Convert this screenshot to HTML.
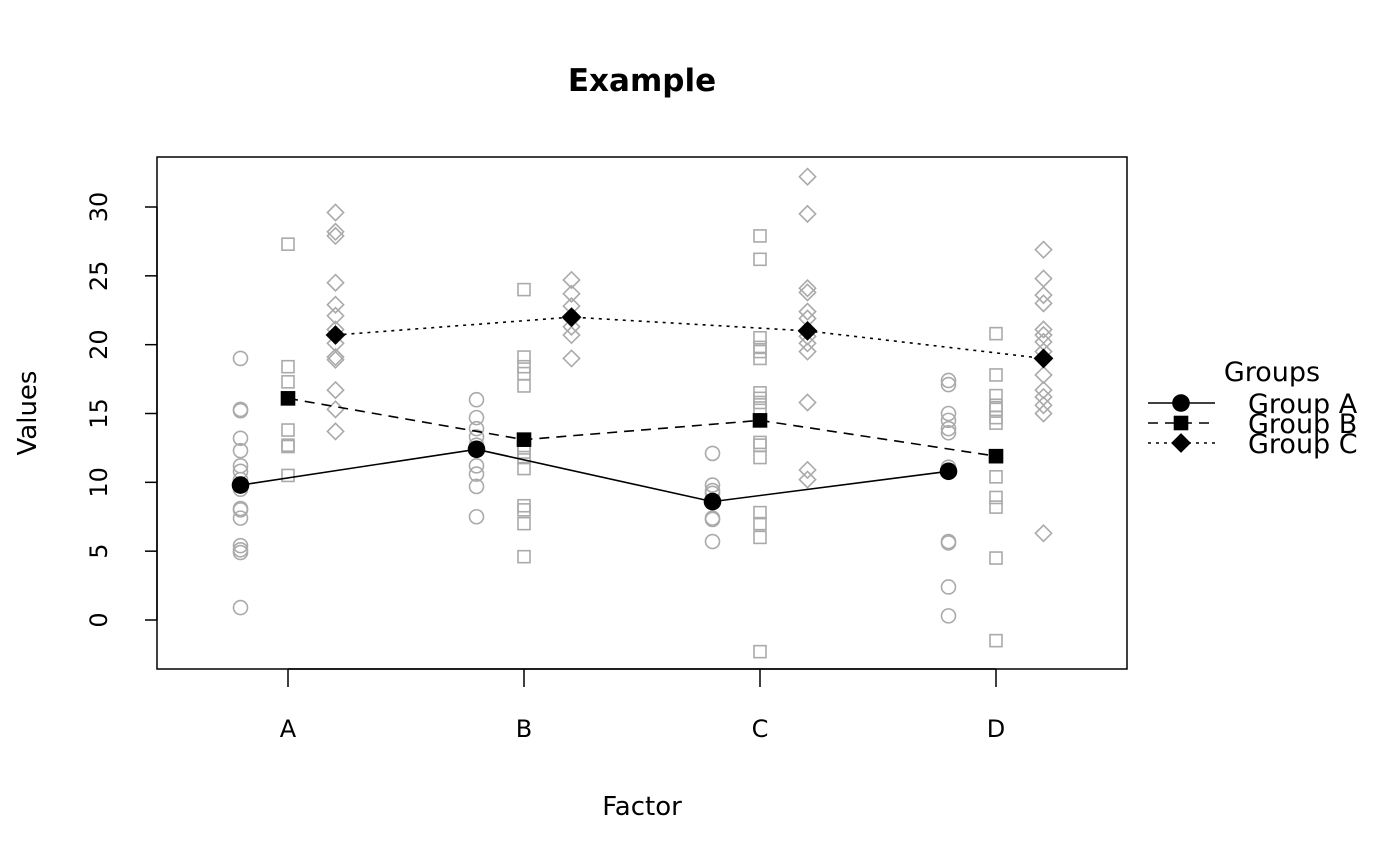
<!DOCTYPE html>
<html><head><meta charset="utf-8"><style>
html,body{margin:0;padding:0;background:#fff}
svg{display:block;font-family:"DejaVu Sans","Liberation Sans",sans-serif}
</style></head><body>
<svg id="chart" width="1400" height="866" viewBox="0 0 1400 866">
<text x="642" y="91" text-anchor="middle" font-size="31" font-weight="bold">Example</text>
<rect x="157" y="157" width="970" height="512" fill="none" stroke="#000" stroke-width="1.5"/>
<text x="642" y="815" text-anchor="middle" font-size="26">Factor</text>
<text transform="translate(36,413) rotate(-90)" text-anchor="middle" font-size="26">Values</text>
<g id="axes"></g><g id="raw"></g><g id="means"></g><g id="legend"></g>
</svg>
<script>
const categories=["A","B","C","D"];
const groupNames=["Group A","Group B","Group C"];
const yTicks=[0,5,10,15,20,25,30];
const rawA=[[19.0,15.3,15.2,13.2,12.3,11.2,10.8,10.2,9.5,8.1,8.0,7.4,5.4,5.1,4.9,0.9],[16.0,14.7,13.9,13.3,12.7,11.2,10.6,9.7,7.5],[12.1,9.8,9.4,9.2,7.4,7.3,5.7],[17.4,17.1,15.0,14.5,13.9,13.6,11.1,5.7,5.6,2.4,0.3]];
const rawB=[[27.3,18.4,17.3,13.8,12.7,12.6,10.5],[24.0,19.1,18.4,17.9,17.0,12.5,12.2,11.8,11.0,8.3,8.0,7.0,4.6],[27.9,26.2,20.5,19.8,19.5,19.0,16.5,16.1,15.8,15.4,12.9,12.7,11.8,7.8,7.0,6.0,-2.3],[20.8,17.8,16.3,15.6,15.3,14.7,14.3,10.4,8.9,8.2,4.5,-1.5]];
const rawC=[[29.6,28.2,27.9,24.5,22.9,22.1,21.1,20.1,19.1,18.9,16.7,15.3,13.7],[24.7,23.7,22.8,21.9,21.3,20.7,19.0],[32.2,29.5,24.1,23.8,22.4,21.9,20.6,20.1,19.5,15.8,10.9,10.2],[26.9,24.8,23.6,23.0,21.1,20.7,20.2,19.5,17.8,16.7,16.2,15.6,15.0,6.3]];
const meansA=[9.8,12.4,8.6,10.8];
const meansB=[16.1,13.1,14.5,11.9];
const meansC=[20.7,22.0,21.0,19.0];

const NS="http://www.w3.org/2000/svg";
const yScale=v=>620-v*(413/30);
const xScale=(i,g)=>288+i*236+(g-1)*47.5;
function mk(tag,attrs,parent){const e=document.createElementNS(NS,tag);for(const k in attrs)e.setAttribute(k,attrs[k]);parent.appendChild(e);return e;}
function marker(shape,x,y,r,fill,stroke,parent){
  let e;
  if(shape===0) e=mk('circle',{cx:x,cy:y,r:r,fill:fill,stroke:stroke,'stroke-width':1.6},parent);
  else if(shape===1) e=mk('rect',{x:x-r,y:y-r,width:2*r,height:2*r,fill:fill,stroke:stroke,'stroke-width':1.6},parent);
  else e=mk('polygon',{points:`${x},${y-r*1.35} ${x+r*1.35},${y} ${x},${y+r*1.35} ${x-r*1.35},${y}`,fill:fill,stroke:stroke,'stroke-width':1.6},parent);
  return e;
}
const axes=document.getElementById('axes');
mk('line',{x1:157,x2:157,y1:yScale(0),y2:yScale(30),stroke:'#000','stroke-width':1.5},axes);
yTicks.forEach(t=>{
  const y=yScale(t);
  const l=mk('line',{x1:145,x2:157,y1:y,y2:y,stroke:'#000','stroke-width':1.5},axes);
  
  
  const tx=mk('text',{transform:`translate(107,${y}) rotate(-90)`,'text-anchor':'middle','font-size':24},axes);
  tx.textContent=t;
  
  
});
mk('line',{x1:xScale(0,1),x2:xScale(3,1),y1:669,y2:669,stroke:'#000','stroke-width':1.5},axes);
categories.forEach((c,i)=>{
  const x=xScale(i,1);
  const l=mk('line',{x1:x,x2:x,y1:669,y2:687,stroke:'#000','stroke-width':1.5},axes);
  
  
  const tx=mk('text',{x:x,y:737,'text-anchor':'middle','font-size':24},axes);
  tx.textContent=c;
  
  
});
const raw=document.getElementById('raw');
[rawA,rawB,rawC].forEach((set,g)=>{
  set.forEach((vals,i)=>{
    vals.forEach(v=>{
      const m=marker(g,xScale(i,g),yScale(v),g===0?7:6,'none','#aaa',raw);
      
      
    });
  });
});
const means=document.getElementById('means');
const dashes=['none','10,7','3,5'];
[meansA,meansB,meansC].forEach((vals,g)=>{
  const pts=vals.map((v,i)=>`${xScale(i,g)},${yScale(v)}`).join(' ');
  const pl=mk('polyline',{points:pts,fill:'none',stroke:'#000','stroke-width':1.6,'stroke-dasharray':dashes[g]},means);
  
  
  vals.forEach((v,i)=>{
    const m=marker(g,xScale(i,g),yScale(v),g===0?8:6.5,'#000','#000',means);
    
    
  });
});
const leg=document.getElementById('legend');


const lt=mk('text',{x:1272,y:381,'text-anchor':'middle','font-size':27},leg);
lt.textContent='Groups';


groupNames.forEach((n,g)=>{
  const y=403+g*20;
  const l=mk('line',{x1:1148,x2:1215,y1:y,y2:y,stroke:'#000','stroke-width':1.6,'stroke-dasharray':dashes[g]},leg);
  
  
  const m=marker(g,1181,y,g===0?8:6.5,'#000','#000',leg);
  
  
  const t=mk('text',{x:1248,y:y+10,'font-size':27},leg);
  t.textContent=n;
  
  
});
</script>
</body></html>
